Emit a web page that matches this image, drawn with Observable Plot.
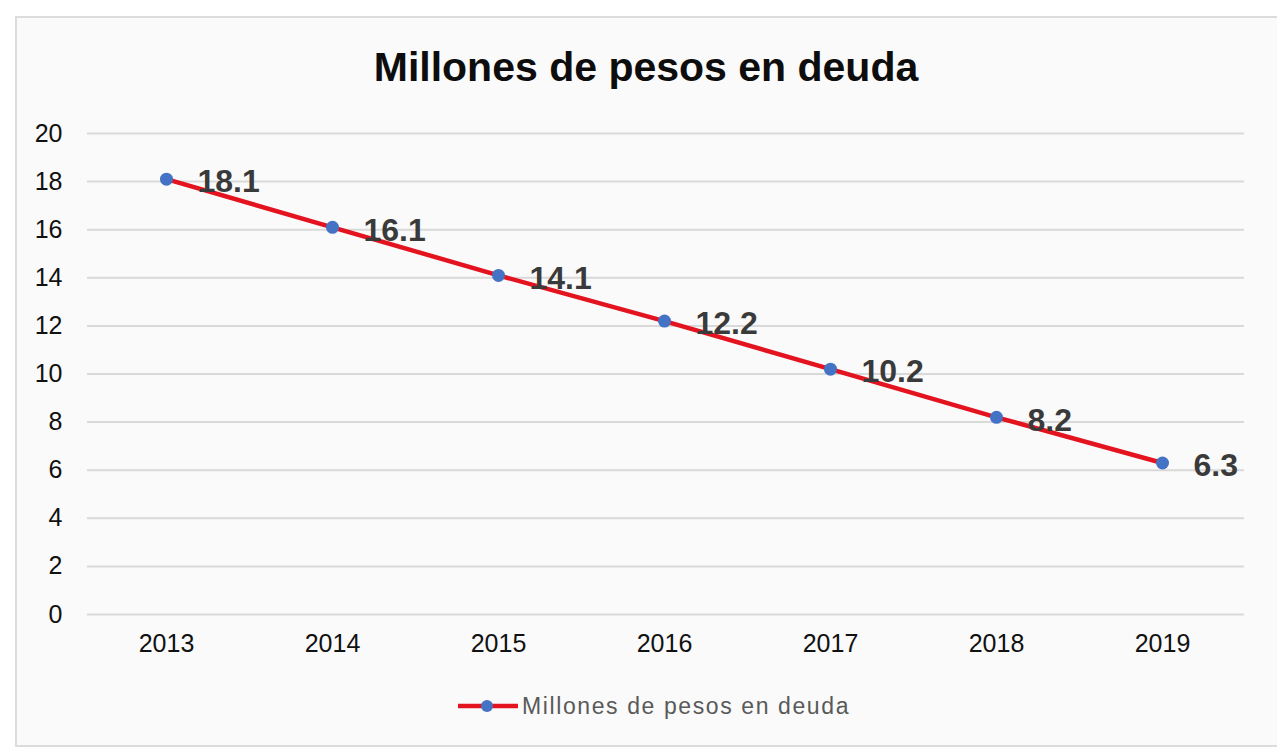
<!DOCTYPE html>
<html>
<head>
<meta charset="utf-8">
<script src="https://cdn.jsdelivr.net/npm/d3@7"></script>
<script src="https://cdn.jsdelivr.net/npm/@observablehq/plot@0.6"></script>
<style>
  html, body { margin: 0; padding: 0; background: #ffffff; width: 1280px; height: 755px; overflow: hidden; }
  body { position: relative; font-family: "Liberation Sans", Arial, sans-serif; }
  #frame { position: absolute; left: 15px; top: 16px; width: 1262px; height: 731px; box-sizing: border-box;
           border: 2px solid #dcdcdc; border-right: none; background: #fafafa; }
  #title { position: absolute; left: 15px; width: 1262px; top: 47px; text-align: center; font-size: 41px;
           line-height: 41px; font-weight: bold; color: #0d0d0d; }
  #chart { position: absolute; left: 0; top: 0; }
  #legend { position: absolute; left: 458px; top: 694px; height: 24px; display: flex; align-items: center; }
  #legend span { font-size: 23px; line-height: 23px; color: #595959; letter-spacing: 1.6px; margin-left: 4px; }
</style>
</head>
<body>
<div id="frame"></div>
<div id="title">Millones de pesos en deuda</div>
<div id="chart"></div>
<div id="legend"></div>
<script>
const seriesName = "Millones de pesos en deuda";
const years = ["2013", "2014", "2015", "2016", "2017", "2018", "2019"];
const values = [18.1, 16.1, 14.1, 12.2, 10.2, 8.2, 6.3];
const yTicks = [0, 2, 4, 6, 8, 10, 12, 14, 16, 18, 20];

const lineColor = "#e3141f";
const dotColor = "#4472c4";

const data = years.map((y, i) => ({year: y, value: values[i]}));

const chart = Plot.plot({
  width: 1280,
  height: 700,
  marginLeft: 87,
  marginRight: 40,
  marginTop: 133,
  marginBottom: 86,
  style: {background: "transparent", fontFamily: "'Liberation Sans', Arial, sans-serif", color: "#111111"},
  x: {type: "point", domain: years, padding: 0.47, label: null},
  y: {domain: [0, 20], label: null},
  marks: [
    Plot.ruleY(yTicks, {stroke: "#d9d9d9", strokeWidth: 2, insetRight: -4}),
    Plot.axisY({ticks: yTicks, tickSize: 0, tickPadding: 25, fontSize: 25, label: null}),
    Plot.axisX({tickSize: 0, tickPadding: 20, fontSize: 25, label: null}),
    Plot.line(data, {x: "year", y: "value", stroke: lineColor, strokeWidth: 4.5}),
    Plot.dot(data, {x: "year", y: "value", r: 6.5, fill: dotColor}),
    Plot.text(data, {x: "year", y: "value", text: d => d.value.toFixed(1), dx: 31, dy: 3,
      textAnchor: "start", fontSize: 32, fontWeight: "bold", fill: "#3a3a3a"})
  ]
});
document.getElementById("chart").appendChild(chart);

const legend = document.getElementById("legend");
legend.innerHTML = `<svg width="60" height="16"><line x1="0" x2="60" y1="8" y2="8" stroke="${lineColor}" stroke-width="4.5"/><circle cx="29" cy="8" r="6" fill="${dotColor}"/></svg><span>${seriesName}</span>`;
</script>
</body>
</html>
